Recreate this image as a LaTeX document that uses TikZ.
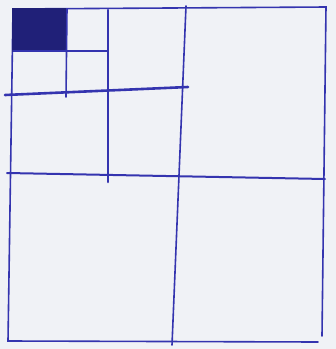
\documentclass[tikz,border=0pt]{standalone}
\usetikzlibrary{positioning}
\definecolor{inkblue}{RGB}{52, 52, 175}
\definecolor{inkdark}{RGB}{32, 32, 120}
\definecolor{paper}{RGB}{240, 242, 246}

\begin{document}
\begin{tikzpicture}[x=1pt, y=-1pt,
        pen/.style={draw=inkblue, line width=1.6pt, line cap=round},
        bold/.style={draw=inkblue, line width=2.6pt, line cap=round},
        shade/.style={fill=inkdark, draw=inkdark, line width=1.2pt}
      ]
        \fill[paper] (0,0) rectangle (336,349);
        \useasboundingbox (0,0) rectangle (336,349);
        % outer square
        \coordinate (tl) at (13,9);
        \coordinate (tr) at (326,7);
        \coordinate (br) at (322,336);
        \coordinate (bl) at (8,341);
        \draw[pen] (tl) -- (tr) -- (br);
        \draw[pen] (tl) -- (bl) -- (318,342);
        % first split
        \coordinate (mt) at (186,6);
        \coordinate (mb) at (172,345);
        \coordinate (ml) at (7,173);
        \coordinate (mr) at (325,179);
        \draw[pen] (mt) -- (mb);
        \draw[bold, line width=2pt] (ml) -- (mr);
        % second split
        \coordinate (qt) at (108,10);
        \coordinate (qb) at (108,182);
        \coordinate (ql) at (5,95);
        \coordinate (qr) at (188,87);
        \draw[bold] (qt) -- (qb);
        \draw[bold] (ql) -- (qr);
        % third split
        \coordinate (st) at (67,9);
        \coordinate (sb) at (66,97);
        \coordinate (sl) at (13,51);
        \coordinate (sr) at (108,51);
        \draw[shade] (tl) rectangle (65,51);
        \draw[pen] (st) -- (sb);
        \draw[pen] (sl) -- (sr);
      \end{tikzpicture}
\end{document}
